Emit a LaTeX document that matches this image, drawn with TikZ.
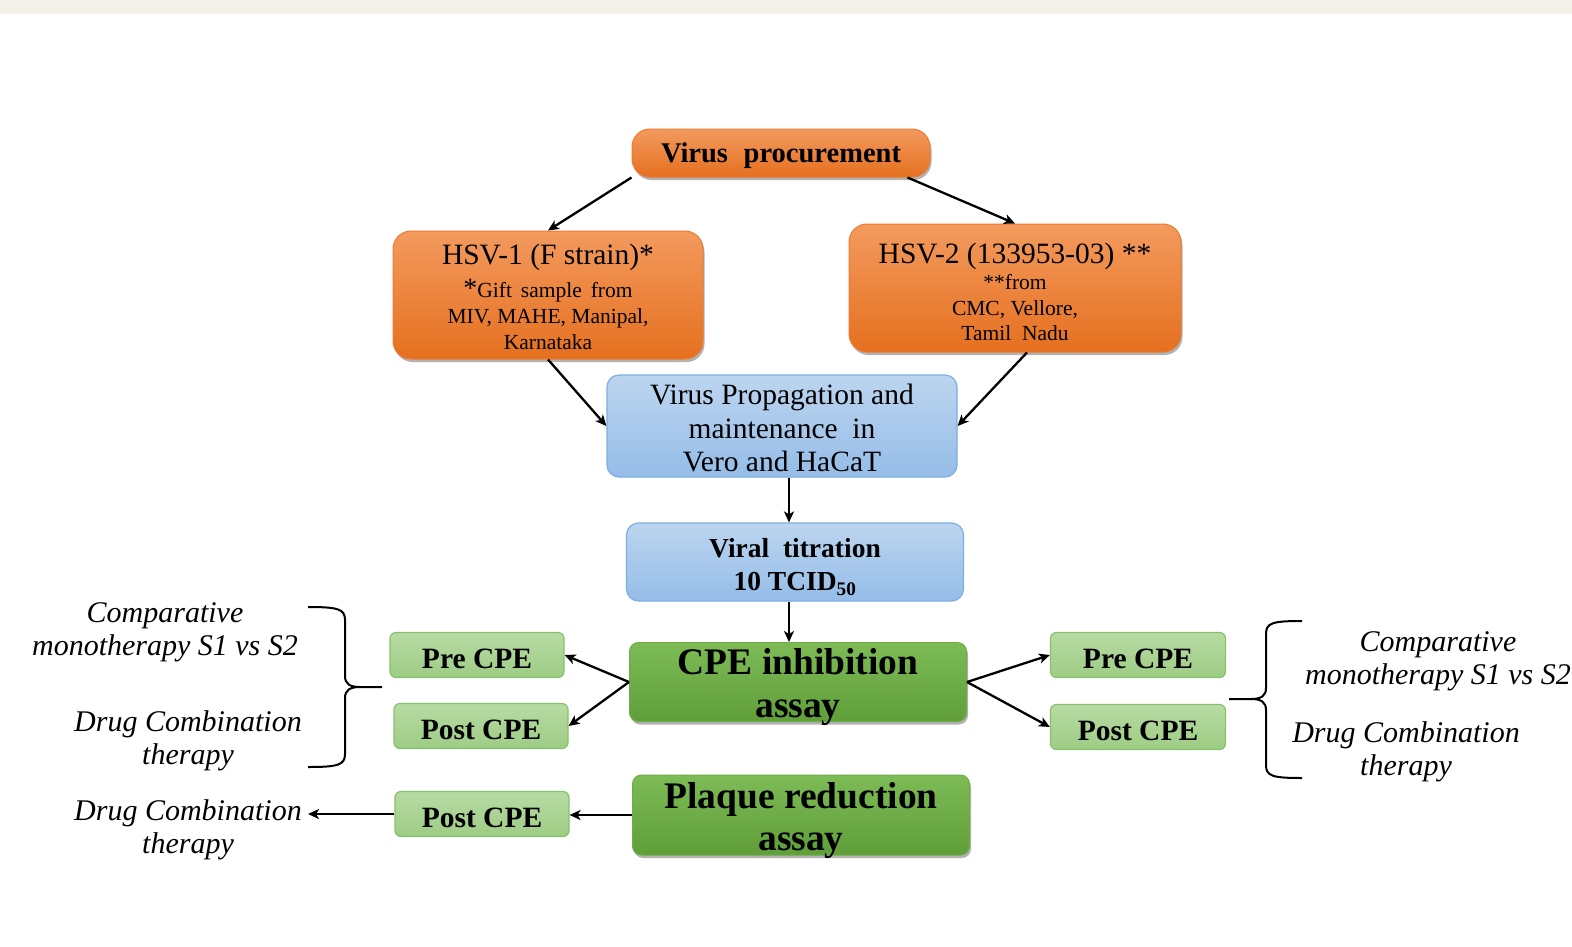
\documentclass[tikz,border=0pt]{standalone}
\usepackage{fontspec}
\setmainfont{Liberation Serif}
\usetikzlibrary{arrows.meta,shadows}
\definecolor{beige}{HTML}{F3F0E8}
\definecolor{or1}{HTML}{F39A5E}
\definecolor{or2}{HTML}{E5701F}
\definecolor{ordraw}{HTML}{EC7B30}
\definecolor{bl1}{HTML}{BCD5EF}
\definecolor{bl2}{HTML}{95BDE8}
\definecolor{bldraw}{HTML}{7DAEE3}
\definecolor{gn1}{HTML}{7DBB57}
\definecolor{gn2}{HTML}{5F9E38}
\definecolor{gndraw}{HTML}{6BAD47}
\definecolor{lg1}{HTML}{B8DBA4}
\definecolor{lg2}{HTML}{9DCC84}
\definecolor{lgdraw}{HTML}{86C26A}
\tikzset{
  myshadow/.style={drop shadow={shadow xshift=1.5pt,shadow yshift=-3pt,opacity=0.3,fill=black}},
  orangebox/.style={rounded corners=18pt,top color=or1,bottom color=or2,draw=ordraw,line width=1pt,myshadow,inner sep=0pt},
  bluebox/.style={rounded corners=12pt,top color=bl1,bottom color=bl2,draw=bldraw,line width=1.2pt,inner sep=0pt},
  greenbox/.style={rounded corners=9pt,top color=gn1,bottom color=gn2,draw=gndraw,line width=1pt,myshadow,inner sep=0pt},
  lightbox/.style={rounded corners=6pt,top color=lg1,bottom color=lg2,draw=lgdraw,line width=1.2pt,inner sep=0pt,minimum width=174pt,minimum height=45pt},
  boxtext/.style={align=center,inner sep=0pt},
  ctext/.style={boxtext,font=\fontsize{29.5}{30}\selectfont\bfseries},
  itext/.style={align=center,inner sep=0pt,font=\fontsize{30}{33}\selectfont\itshape},
  arr/.style={-{Stealth[length=11pt,width=10pt,inset=3pt]},line width=2.3pt,black},
  brace/.style={line width=2pt,black}
}
\begin{document}
\begin{tikzpicture}[x=1pt,y=-1pt]
\useasboundingbox (0,0) rectangle (1572,946);
\fill[white] (0,0) rectangle (1572,946);
\fill[beige] (0,0) rectangle (1572,14);

% boxes
\node[orangebox,minimum width=298pt,minimum height=48pt] (vp) at (781,153) {};
\node[orangebox,minimum width=310pt,minimum height=128pt] (hsv1) at (548,295) {};
\node[orangebox,minimum width=332pt,minimum height=128pt] (hsv2) at (1015,288) {};
\node[bluebox,minimum width=350pt,minimum height=102pt] (prop) at (782,426) {};
\node[bluebox,minimum width=337pt,minimum height=78pt] (titr) at (795,562) {};
\node[greenbox,minimum width=337pt,minimum height=79pt] (cpe) at (798,682) {};
\node[greenbox,minimum width=337pt,minimum height=80pt] (plq) at (801,815) {};
\node[lightbox] (pre1) at (477,655) {};
\node[lightbox] (post1) at (481,726) {};
\node[lightbox] (post3) at (482,814) {};
\node[lightbox,minimum width=175pt] (pre2) at (1138,655) {};
\node[lightbox,minimum width=175pt] (post2) at (1138,727) {};

% box texts
\node[boxtext,font=\fontsize{28.5}{30}\selectfont\bfseries] (vp-t) at ([yshift=-3pt]vp.center) {Virus\hspace{0.3em} procurement};
\node[boxtext,font=\fontsize{21.5}{26}\selectfont] (hsv1-t) at ([yshift=-2pt]hsv1.center)
  {{\fontsize{29.5}{29.5}\selectfont HSV-1 (F strain)*}\\[7pt]{\fontsize{28}{28}\selectfont *}Gift\ \,sample\ \,from\\MIV, MAHE, Manipal,\\Karnataka};
\node[boxtext,font=\fontsize{21.5}{25.5}\selectfont] (hsv2-t) at ([yshift=-4pt]hsv2.center)
  {{\fontsize{29.5}{29.5}\selectfont HSV-2 (133953-03)\ **}\\[1pt]**from\\CMC, Vellore,\\Tamil\ \ Nadu};
\node[boxtext,font=\fontsize{29.5}{33.5}\selectfont] (prop-t) at ([yshift=-2pt]prop.center)
  {Virus Propagation and\\maintenance\ \ in\\Vero and HaCaT};
\node[boxtext,font=\fontsize{27.5}{33}\selectfont\bfseries] (titr-t) at ([yshift=-5pt]titr.center)
  {Viral\ \ titration\\10 TCID\textsubscript{50}};
\node[boxtext,font=\fontsize{37.5}{43}\selectfont\bfseries] (cpe-t) at ([yshift=-5pt]cpe.center)
  {CPE inhibition\\assay};
\node[boxtext,font=\fontsize{37.5}{42}\selectfont\bfseries] (plq-t) at ([yshift=-6pt]plq.center)
  {Plaque reduction\\assay};
\node[ctext] (pre1-t) at ([yshift=-4pt]pre1.center) {Pre CPE};
\node[ctext] (post1-t) at ([yshift=-4pt]post1.center) {Post CPE};
\node[ctext] (post3-t) at ([yshift=-4pt]post3.center) {Post CPE};
\node[ctext] (pre2-t) at ([yshift=-4pt]pre2.center) {Pre CPE};
\node[ctext] (post2-t) at ([yshift=-4pt]post2.center) {Post CPE};

% side texts
\node[itext] (lt1) at (165,632) {Comparative\\monotherapy S1 vs S2};
\node[itext] (lt2) at (188,741) {Drug Combination\\therapy};
\node[itext] (lt3) at (188,830) {Drug Combination\\therapy};
\node[itext] (rt1) at (1438,661) {Comparative\\monotherapy S1 vs S2};
\node[itext] (rt2) at (1406,752) {Drug Combination\\therapy};
\coordinate (lt3end) at (308,814);

% arrows
\draw[arr] (vp.south west) -- (hsv1.north);
\draw[arr] ([xshift=-23pt]vp.south east) -- (hsv2.north);
\draw[arr] (hsv1.south) -- (prop.west);
\draw[arr] ([xshift=12pt]hsv2.south) -- (prop.east);
\draw[arr] ([xshift=7pt]prop.south) -- ([xshift=7pt]prop.south |- titr.north);
\draw[arr] ([xshift=-6pt]titr.south) -- ([xshift=-6pt]titr.south |- cpe.north);
\draw[arr] (cpe.west) -- (pre1.east);
\draw[arr] (cpe.west) -- (post1.east);
\draw[arr] (cpe.east) -- (pre2.west);
\draw[arr] (cpe.east) -- (post2.west);
\draw[arr] (plq.west) -- (plq.west -| post3.east);
\draw[arr] (post3.west) -- (lt3end);

% braces
\draw[brace] (308,607) .. controls (338,607) and (345,609) .. (345,620) -- (345,676)
  .. controls (345,684) and (350,687) .. (360,687) -- (382,687);
\draw[brace] (360,687) .. controls (350,687) and (345,690) .. (345,698) -- (345,754)
  .. controls (345,765) and (338,767) .. (308,767);
\draw[brace] (1302,621) .. controls (1272,621) and (1266,623) .. (1266,634) -- (1266,688)
  .. controls (1266,696) and (1261,699) .. (1251,699) -- (1229,699);
\draw[brace] (1251,699) .. controls (1261,699) and (1266,702) .. (1266,710) -- (1266,765)
  .. controls (1266,776) and (1272,778) .. (1302,778);
\end{tikzpicture}
\end{document}
